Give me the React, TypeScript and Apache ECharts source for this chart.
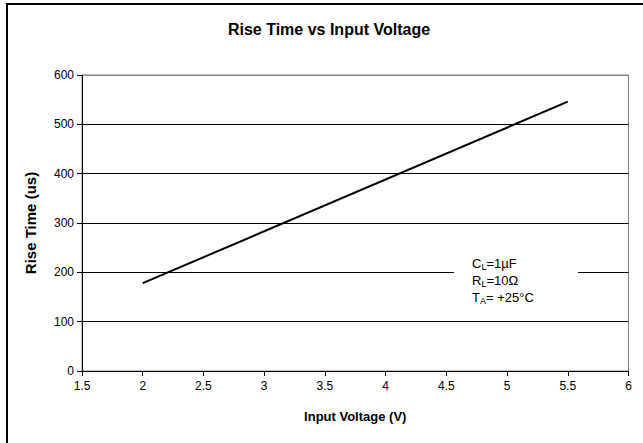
import React, { useEffect, useRef } from "react";
import * as echarts from "echarts";

const titleText = "Rise Time vs Input Voltage";
const xAxisName = "Input Voltage (V)";
const yAxisName = "Rise Time (us)";
const voltage = [2, 5.5];
const riseTime = [178, 546];
const xMin = 1.5;
const xMax = 6;
const xStep = 0.5;
const yMin = 0;
const yMax = 600;
const yStep = 100;
const noteLines = [
  { main: "C", sub: "L", rest: "=1µF" },
  { main: "R", sub: "L", rest: "=10Ω" },
  { main: "T", sub: "A", rest: "= +25°C" },
];

const FONT = "'Liberation Sans', Arial, sans-serif";

export default function App() {
  const ref = useRef<HTMLDivElement>(null);
  useEffect(() => {
    if (!ref.current) return;
    const chart = echarts.init(ref.current, null, { renderer: "svg" });
    const gl = 82, gt = 75, gr = 628.5, gb = 371;

    const noteX = 472;
    const noteY0 = 263;
    const lineH = 17;
    const mainSize = 13;
    const subSize = 9;
    const ctx = document.createElement("canvas").getContext("2d")!;
    const measure = (t: string, size: number) => {
      ctx.font = `${size}px 'Liberation Sans', Arial, sans-serif`;
      return ctx.measureText(t).width;
    };
    const noteEls: any[] = [];
    noteLines.forEach((ln, i) => {
      const y = noteY0 + i * lineH;
      const w1 = measure(ln.main, mainSize);
      const w2 = measure(ln.sub, subSize);
      noteEls.push({
        type: "text", x: noteX, y, silent: true,
        style: { text: ln.main, fontSize: mainSize, fontFamily: FONT, fill: "#000", verticalAlign: "middle", align: "left" },
      });
      noteEls.push({
        type: "text", x: noteX + w1, y: y + 3.5, silent: true,
        style: { text: ln.sub, fontSize: subSize, fontFamily: FONT, fill: "#000", verticalAlign: "middle", align: "left" },
      });
      noteEls.push({
        type: "text", x: noteX + w1 + w2, y, silent: true,
        style: { text: ln.rest, fontSize: mainSize, fontFamily: FONT, fill: "#000", verticalAlign: "middle", align: "left" },
      });
    });

    chart.setOption({
      animation: false,
      backgroundColor: "#fff",
      title: {
        text: titleText,
        left: 329,
        top: 21,
        textAlign: "center",
        padding: 0,
        textStyle: { fontFamily: FONT, fontWeight: "bold", fontSize: 16, color: "#000" },
      },
      grid: {
        left: gl, top: gt, width: gr - gl, height: gb - gt,
        show: true, borderColor: "#808080", borderWidth: 1, backgroundColor: "transparent",
      },
      xAxis: {
        type: "value", min: xMin, max: xMax, interval: xStep,
        name: xAxisName, nameLocation: "middle", nameGap: 39,
        nameTextStyle: { fontFamily: FONT, fontWeight: "bold", fontSize: 13, color: "#000" },
        axisLine: { show: true, lineStyle: { color: "#000", width: 1 } },
        axisTick: { show: true, length: 5, lineStyle: { color: "#000" } },
        axisLabel: { fontFamily: FONT, fontSize: 12, color: "#000", margin: 9 },
        splitLine: { show: false },
      },
      yAxis: {
        type: "value", min: yMin, max: yMax, interval: yStep,
        name: yAxisName, nameLocation: "middle", nameGap: 44,
        nameTextStyle: { fontFamily: FONT, fontWeight: "bold", fontSize: 15, color: "#000" },
        axisLine: { show: true, lineStyle: { color: "#000", width: 1 } },
        axisTick: { show: true, length: 5, lineStyle: { color: "#000" } },
        axisLabel: { fontFamily: FONT, fontSize: 12, color: "#000", margin: 8 },
        splitLine: { show: true, lineStyle: { color: ["#000", "#000", "#000", "#000", "#000", "#000", "#808080"], width: 1 } },
      },
      series: [
        {
          type: "line",
          data: voltage.map((v, i) => [v, riseTime[i]]),
          showSymbol: false,
          lineStyle: { color: "#000", width: 2 },
          z: 3,
        },
      ],
      graphic: [
        {
          type: "rect", silent: true, z: 10,
          shape: { x: 7, y: 4, width: 700, height: 500 },
          style: { fill: "none", stroke: "#000", lineWidth: 2 },
        },
        {
          type: "rect", silent: true, z: 20,
          shape: { x: 454, y: 252, width: 124, height: 55 },
          style: { fill: "#fff" },
        },
        ...noteEls.map((e) => ({ ...e, z: 21 })),
      ],
    });
    return () => chart.dispose();
  }, []);
  return <div ref={ref} style={{ position: "fixed", left: 0, top: 0, width: 643, height: 443 }} />;
}
